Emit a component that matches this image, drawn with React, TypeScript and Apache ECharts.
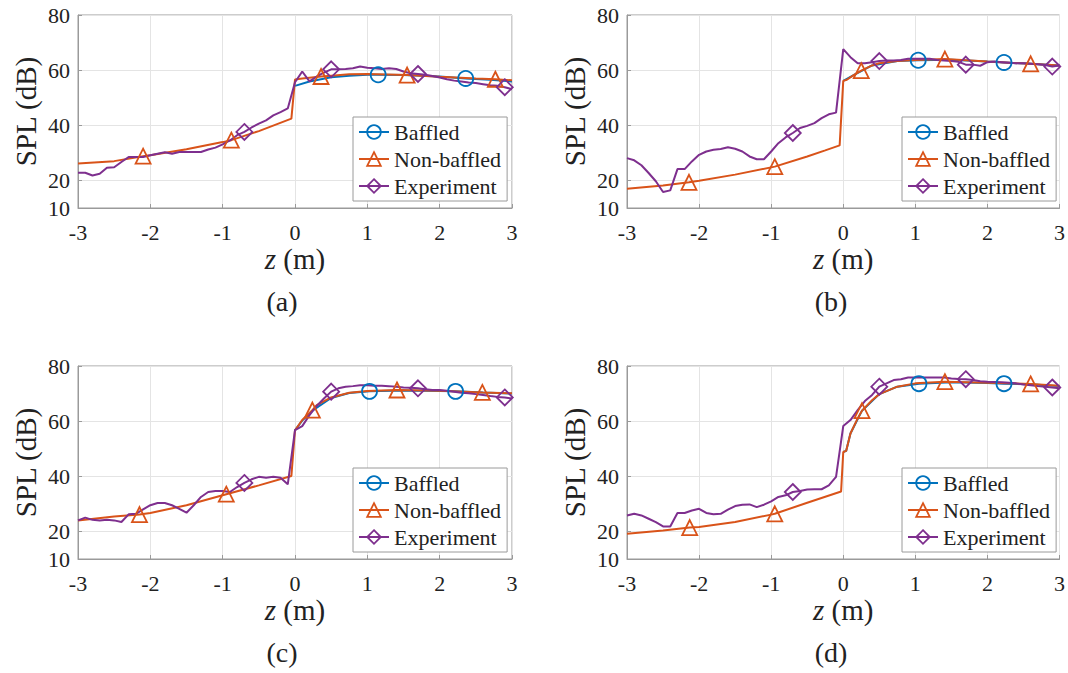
import React, { useEffect, useRef } from 'react';
import * as echarts from 'echarts';

const FONT = 'Liberation Serif';
const C_B = '#0072BD';
const C_N = '#D95319';
const C_E = '#7E2F8E';
const AXIS = '#9a9a9a';
const GRIDC = '#e4e4e4';
const TXT = '#222222';

const seriesNames = ['Baffled', 'Non-baffled', 'Experiment'];
const panelLabels = ['(a)', '(b)', '(c)', '(d)'];
const yTicks = [10, 20, 40, 60, 80];
const xTicks = [-3, -2, -1, 0, 1, 2, 3];

// Experiment positions (m)
const zExp = [-3, -2.9, -2.8, -2.7, -2.6, -2.5, -2.4, -2.3, -2.2, -2.1, -2, -1.9, -1.8, -1.7, -1.6, -1.5, -1.4, -1.3, -1.2, -1.1, -1, -0.9, -0.8, -0.7, -0.6, -0.5, -0.4, -0.3, -0.2, -0.1, 0, 0.1, 0.2, 0.3, 0.4, 0.5, 0.6, 0.7, 0.8, 0.9, 1, 1.1, 1.2, 1.3, 1.4, 1.5, 1.6, 1.7, 1.8, 1.9, 2, 2.1, 2.2, 2.3, 2.4, 2.5, 2.6, 2.7, 2.8, 2.9, 3];
const expMarkZ = [-0.7, 0.5, 1.7, 2.9];

const expA = [22.8, 22.8, 21.8, 22.4, 24.6, 24.8, 26.7, 28.5, 28.5, 28.5,
  29.1, 29.7, 30.2, 29.7, 30.3, 30.3, 30.3, 30.3, 31.2, 31.9,
  33.1, 34.5, 36.4, 37.6, 39.2, 40.6, 41.8, 43.6, 44.8, 46.1,
  55.6, 59.5, 55.9, 57.7, 59.1, 60.3, 60.3, 60.4, 60.7, 61.3,
  60.9, 60.7, 60.4, 60.7, 60.4, 59.5, 58.9, 58.6, 58.3, 57.9,
  57.3, 56.7, 56.2, 55.9, 55.5, 55.3, 54.9, 54.5, 54.3, 53.8, 53.1];
const expB = [28.1, 27.3, 25.5, 22.7, 19.7, 15.8, 16.4, 24.1, 24.1, 26.9,
  29.3, 30.5, 31.1, 31.4, 32.0, 31.5, 30.5, 28.7, 27.7, 27.7,
  30.5, 33.5, 35.6, 37.2, 39.0, 39.8, 40.8, 42.6, 44.0, 44.6,
  67.6, 64.7, 62.5, 62.5, 62.9, 63.3, 63.5, 63.5, 63.7, 64.1,
  64.1, 64.1, 64.1, 63.7, 63.5, 63.3, 63.0, 62.0, 62.0, 61.6,
  62.9, 63.1, 62.9, 62.7, 62.5, 62.5, 62.3, 62.1, 61.9, 61.3, 61.7];
const expC = [24.0, 25.0, 24.2, 24.0, 24.2, 24.0, 23.4, 26.2, 26.4, 28.0,
  29.5, 30.3, 30.3, 29.5, 28.2, 26.8, 29.5, 32.5, 34.3, 34.7,
  34.7, 34.3, 36.1, 37.6, 38.9, 39.8, 39.5, 39.8, 39.5, 37.1,
  56.7, 58.2, 62.2, 65.5, 68.2, 70.7, 71.9, 72.5, 72.7, 73.0,
  73.0, 72.8, 72.8, 72.7, 72.5, 72.2, 72.1, 71.9, 71.6, 71.3,
  71.3, 71.0, 70.7, 70.3, 70.1, 69.8, 69.5, 69.1, 68.8, 68.6, 68.2];
const expD = [25.8, 26.4, 25.8, 24.6, 23.4, 21.8, 21.8, 26.7, 26.7, 27.6,
  28.2, 26.7, 26.2, 26.4, 27.9, 29.2, 29.7, 29.8, 28.8, 29.7,
  30.9, 32.5, 33.1, 34.3, 34.7, 35.2, 35.3, 35.3, 36.7, 39.8,
  58.2, 60.4, 64.0, 67.3, 69.5, 72.5, 73.7, 74.9, 75.2, 75.8,
  75.8, 75.8, 75.8, 75.8, 75.8, 75.5, 75.3, 75.2, 74.9, 74.5,
  74.3, 74.2, 74.1, 73.9, 73.7, 73.3, 73.0, 72.7, 72.5, 72.2, 71.9];

// Non-baffled model
const nbZA = [-3, -2.5, -2.1, -2, -1.5, -1, -0.88, -0.5, -0.05, 0, 0.1, 0.36, 0.5, 0.75, 1, 1.55, 2, 2.5, 2.77, 3];
const nbA = [26.1, 27.0, 28.8, 29.1, 31.3, 33.9, 34.6, 37.9, 42.4, 56.6, 57.0, 57.7, 58.0, 58.5, 58.6, 58.2, 57.6, 57.0, 56.7, 56.3];
const nbMarkA = [-2.1, -0.88, 0.36, 1.55, 2.77];

const nbZB = [-3, -2.5, -2.14, -2, -1.5, -0.95, -0.5, -0.25, -0.05, 0, 0.05, 0.15, 0.25, 0.4, 0.5, 0.75, 1, 1.41, 2, 2.6, 3];
const nbB = [17.0, 18.2, 19.3, 19.9, 22.1, 25.0, 28.7, 30.9, 32.7, 56.1, 56.5, 58.3, 59.8, 61.7, 62.5, 63.3, 63.7, 64.0, 63.1, 62.3, 61.7];
const nbMarkB = [-2.14, -0.95, 0.25, 1.41, 2.6];

const nbZC = [-3, -2.5, -2.15, -2, -1.5, -1, -0.95, -0.5, -0.05, 0, 0.1, 0.24, 0.3, 0.5, 0.75, 1, 1.41, 2, 2.59, 3];
const nbC = [24.0, 25.4, 26.1, 26.7, 29.5, 33.1, 33.5, 36.7, 40.1, 56.7, 60.4, 64.0, 65.8, 68.6, 70.3, 70.9, 71.3, 71.0, 70.4, 70.1];
const nbMarkC = [-2.15, -0.95, 0.24, 1.41, 2.59];

const nbZD = [-3, -2.5, -2.13, -2, -1.5, -1, -0.95, -0.5, -0.03, 0, 0.04, 0.1, 0.2, 0.26, 0.4, 0.5, 0.75, 1, 1.41, 2, 2.6, 3];
const nbD = [19.2, 20.3, 21.4, 21.6, 23.4, 26.1, 26.4, 30.4, 34.5, 48.8, 49.2, 55.5, 61.0, 63.8, 67.6, 69.8, 72.5, 73.7, 74.3, 73.9, 73.5, 72.8];
const nbMarkD = [-2.13, -0.95, 0.26, 1.41, 2.6];

// Baffled model
const bZA = [0, 0.2, 0.5, 0.75, 1, 1.15, 1.5, 2, 2.36, 2.7, 3];
const bA = [54.3, 55.9, 57.4, 58.0, 58.3, 58.3, 58.2, 57.7, 57.0, 56.5, 55.9];
const bMarkA = [1.15, 2.36];

const bZB = [0, 0.15, 0.4, 0.75, 1.04, 1.5, 2, 2.23, 2.6, 3];
const bB = [56.1, 58.3, 61.7, 63.3, 63.6, 63.8, 63.1, 62.8, 62.3, 61.7];
const bMarkB = [1.04, 2.23];

const bZC = [0, 0.1, 0.24, 0.5, 0.75, 1.03, 1.5, 2, 2.22, 2.6, 3];
const bC = [56.7, 60.2, 63.8, 68.4, 70.2, 70.8, 71.1, 70.9, 70.8, 70.4, 70.0];
const bMarkC = [1.03, 2.22];

const bZD = [0, 0.04, 0.1, 0.26, 0.5, 0.75, 1.05, 1.5, 2, 2.23, 2.6, 3];
const bD = [48.8, 49.2, 55.5, 63.8, 69.8, 72.5, 73.6, 74.1, 73.8, 73.6, 73.4, 72.7];
const bMarkD = [1.05, 2.23];

const panels = [
  { b: [bZA, bA, bMarkA], n: [nbZA, nbA, nbMarkA], e: expA },
  { b: [bZB, bB, bMarkB], n: [nbZB, nbB, nbMarkB], e: expB },
  { b: [bZC, bC, bMarkC], n: [nbZC, nbC, nbMarkC], e: expC },
  { b: [bZD, bD, bMarkD], n: [nbZD, nbD, nbMarkD], e: expD },
];

// layout
const layout = [
  { left: 78, top: 15, legendLeft: 353, legendTop: 117, labelX: 282, labelY: 301 },
  { left: 627, top: 15, legendLeft: 902, legendTop: 117, labelX: 831, labelY: 301 },
  { left: 78, top: 366, legendLeft: 353, legendTop: 468, labelX: 282, labelY: 652 },
  { left: 627, top: 366, legendLeft: 902, legendTop: 468, labelX: 831, labelY: 652 },
];
const GW = 434;
const GH = 193;

function build(zs: number[], ys: number[], marks: number[]) {
  return zs.map((z, i) =>
    marks.indexOf(z) >= 0 ? { value: [z, ys[i]] } : { value: [z, ys[i]], symbol: 'none' }
  );
}

function lineSeries(name: string, idx: number, color: string, symbol: string, data: any[], size: number) {
  return {
    name,
    type: 'line',
    xAxisIndex: idx,
    yAxisIndex: idx,
    data,
    symbol,
    symbolSize: size,
    showAllSymbol: true,
    lineStyle: { color, width: 2 },
    itemStyle: { color: 'rgba(0,0,0,0)', borderColor: color, borderWidth: 1.8 },
    emphasis: { disabled: true },
    silent: true,
    clip: true,
    z: 3,
  };
}

export default function App() {
  const ref = useRef<HTMLDivElement>(null);
  useEffect(() => {
    if (!ref.current) return;
    const chart = echarts.init(ref.current, undefined, { renderer: 'svg' });
    const grid: any[] = [];
    const xAxis: any[] = [];
    const yAxis: any[] = [];
    const series: any[] = [];
    const legend: any[] = [];
    const graphic: any[] = [];
    layout.forEach((L, i) => {
      grid.push({ left: L.left, top: L.top, width: GW, height: GH, show: true, borderColor: AXIS, borderWidth: 1, backgroundColor: 'transparent' });
      xAxis.push({
        type: 'value', gridIndex: i, min: -3, max: 3, interval: 1,
        axisLine: { show: true, onZero: false, lineStyle: { color: AXIS, width: 1 } },
        axisTick: { show: true, inside: true, length: 4, lineStyle: { color: AXIS } },
        axisLabel: { fontFamily: FONT, fontSize: 22, color: TXT, margin: 13, customValues: xTicks },
        splitLine: { show: true, lineStyle: { color: GRIDC, width: 1 } },
        name: '{i|z} (m)', nameLocation: 'middle', nameGap: 36,
        nameTextStyle: {
          fontFamily: FONT, fontSize: 29, color: TXT,
          rich: { i: { fontStyle: 'italic', fontFamily: FONT, fontSize: 29, color: TXT } },
        },
      });
      yAxis.push({
        type: 'value', gridIndex: i, min: 10, max: 80,
        axisLine: { show: true, onZero: false, lineStyle: { color: AXIS, width: 1 } },
        axisTick: { show: true, inside: true, length: 4, lineStyle: { color: AXIS }, customValues: yTicks },
        axisLabel: { fontFamily: FONT, fontSize: 22, color: TXT, margin: 8, customValues: yTicks },
        splitLine: { show: true, lineStyle: { color: GRIDC, width: 1 } },
        name: 'SPL (dB)', nameLocation: 'middle', nameGap: 38,
        nameTextStyle: { fontFamily: FONT, fontSize: 29, color: TXT },
      });
      const P = panels[i];
      series.push(lineSeries('Baffled', i, C_B, 'circle', build(P.b[0], P.b[1], P.b[2]), 15));
      series.push(lineSeries('Non-baffled', i, C_N, 'triangle', build(P.n[0], P.n[1], P.n[2]), 15));
      series.push(lineSeries('Experiment', i, C_E, 'diamond', build(zExp, P.e, expMarkZ), 16));
      legend.push({
        data: seriesNames, orient: 'vertical', left: L.legendLeft, top: L.legendTop,
        itemWidth: 30, itemHeight: 17, itemGap: 5, padding: [4, 6, 4, 5],
        borderColor: AXIS, borderWidth: 1, backgroundColor: '#ffffff',
        textStyle: { fontFamily: FONT, fontSize: 22, color: TXT },
        itemStyle: { borderWidth: 1.8 }, lineStyle: { width: 2 },
        selectedMode: false, z: 10,
      });
      graphic.push({
        type: 'text', x: L.labelX, y: L.labelY,
        style: { text: panelLabels[i], fontFamily: FONT, fontSize: 28, fill: TXT, align: 'center', verticalAlign: 'middle' },
      });
    });
    chart.setOption({
      animation: false,
      backgroundColor: '#ffffff',
      textStyle: { fontFamily: FONT },
      grid, xAxis, yAxis, series, legend, graphic,
    });
    return () => chart.dispose();
  }, []);
  return <div ref={ref} style={{ position: 'absolute', left: 0, top: 0, width: 1068, height: 673, background: '#fff' }} />;
}
